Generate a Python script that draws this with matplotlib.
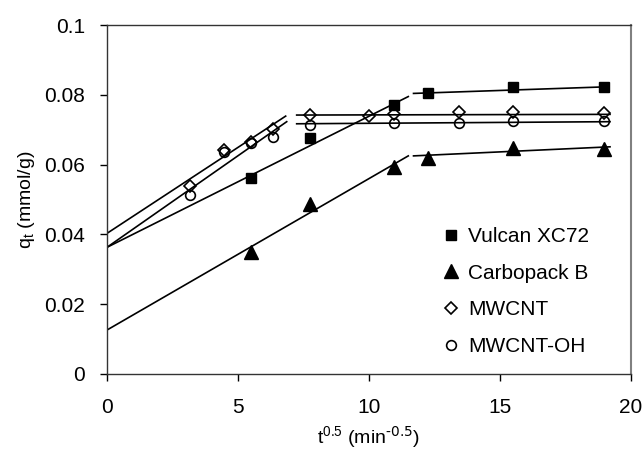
import matplotlib
matplotlib.use('Agg')
import matplotlib.pyplot as plt

plt.rcParams['font.family'] = ['Liberation Sans', 'DejaVu Sans']
plt.rcParams['mathtext.default'] = 'regular'

# sqrt(t) values of the measured points
x_vulcan = [5.48, 7.75, 10.95, 12.25, 15.49, 18.97]
y_vulcan = [0.0562, 0.0675, 0.0771, 0.0804, 0.0823, 0.0823]

x_carbo = [5.48, 7.75, 10.95, 12.25, 15.49, 18.97]
y_carbo = [0.0350, 0.0487, 0.0592, 0.0618, 0.0647, 0.0645]

x_mwcnt = [3.16, 4.47, 5.48, 6.32, 7.75, 10.0, 10.95, 13.42, 15.49, 18.97]
y_mwcnt = [0.0539, 0.0642, 0.0666, 0.0701, 0.0742, 0.0740, 0.0744, 0.0750, 0.0750, 0.0747]

x_oh = [3.16, 4.47, 5.48, 6.32, 7.75, 10.95, 13.42, 15.49, 18.97]
y_oh = [0.0513, 0.0637, 0.0661, 0.0680, 0.0713, 0.0718, 0.0718, 0.0726, 0.0726]

# trend line segments: (x start, x end), (y start, y end)
fit_vulcan = [((0, 11.5), (0.0363, 0.0795)), ((11.7, 19.1), (0.0804, 0.0823))]
fit_carbo = [((0, 11.5), (0.0126, 0.0625)), ((11.7, 19.2), (0.0625, 0.0651))]
fit_mwcnt = [((0, 6.82), (0.0403, 0.0739)), ((7.24, 19.2), (0.0742, 0.0744))]
fit_oh = [((0, 6.86), (0.0363, 0.0723)), ((7.24, 19.2), (0.0717, 0.0723))]

fig = plt.figure(figsize=(6.43, 4.5), dpi=100)
ax = fig.add_axes([0.1664, 0.1689, 0.8149, 0.7755])

for seg in fit_vulcan + fit_carbo + fit_mwcnt + fit_oh:
    ax.plot(seg[0], seg[1], color='black', linewidth=1.2, zorder=2)

h1, = ax.plot(x_vulcan, y_vulcan, linestyle='none', marker='s', markersize=7,
              color='black', label='Vulcan XC72', zorder=3)
h2, = ax.plot(x_carbo, y_carbo, linestyle='none', marker='^', markersize=9.5,
              color='black', label='Carbopack B', zorder=3)
h3, = ax.plot(x_mwcnt, y_mwcnt, linestyle='none', marker='D', markersize=6,
              markerfacecolor='none', markeredgecolor='black', markeredgewidth=1.2,
              label='MWCNT', zorder=3)
h4, = ax.plot(x_oh, y_oh, linestyle='none', marker='o', markersize=7,
              markerfacecolor='none', markeredgecolor='black', markeredgewidth=1.2,
              label='MWCNT-OH', zorder=3)

ax.set_xlim(0, 20)
ax.set_ylim(0, 0.1)
ax.set_xticks([0, 5, 10, 15, 20])
ax.set_yticks([0, 0.02, 0.04, 0.06, 0.08, 0.1])
ax.set_yticklabels(['0', '0.02', '0.04', '0.06', '0.08', '0.1'])
ax.tick_params(direction='out', length=5, width=1, labelsize=15, colors='black')
ax.tick_params(axis='x', pad=12)
ax.tick_params(axis='y', pad=11)

for s in ['left', 'bottom', 'top']:
    ax.spines[s].set_color('#333333')
    ax.spines[s].set_linewidth(1)
ax.spines['right'].set_color('#808080')
ax.spines['right'].set_linewidth(1.5)

ax.set_xlabel('t$^{0.5}$ (min$^{\\text{-0.5}}$)', fontsize=14, labelpad=6)
ax.set_ylabel('q$_{t}$ (mmol/g)', fontsize=14, labelpad=5)

ax.legend(handles=[h1, h2, h3, h4], loc='upper left', bbox_to_anchor=(0.625, 0.445),
          frameon=False, fontsize=15, handlelength=0.8, handletextpad=0.4,
          labelspacing=0.85, borderaxespad=0)

fig.savefig('out.png', dpi=100)
